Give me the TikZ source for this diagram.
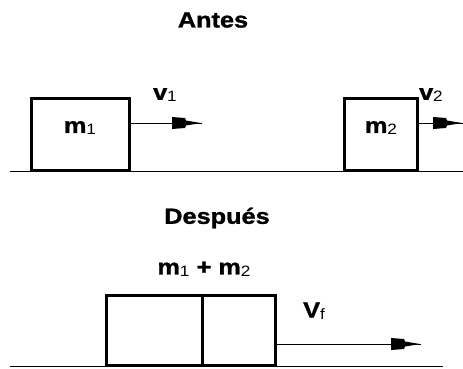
\documentclass[tikz,border=0pt]{standalone}
\usepackage{fontspec}
\setmainfont{Liberation Sans}[BoldFeatures={FakeBold=1.2}]
\newcommand\hstretchtxt[1]{\scalebox{1.15}[1]{#1}}
\newcommand\lowsub[1]{\raisebox{-2pt}{\fontsize{15}{18}\selectfont\mdseries #1}}
\begin{document}
\begin{tikzpicture}[x=1pt,y=-1pt,
  lbl/.style={inner sep=0pt, font=\bfseries\fontsize{22}{26}\selectfont},
  box/.style={draw, line width=3pt, inner sep=0pt, minimum height=72pt},
  ground/.style={line width=1.5pt},
  vec/.style={line width=1pt},
  vhead/.pic={\fill (-29,-6) -- (-16,-5) -- (-15,-2.5) -- (0,0) -- (-15,2.5) -- (-16,5) -- (-29,6) -- cycle;}]
\useasboundingbox (0,0) rectangle (463,368);
% Antes
\node[lbl] (antes) at (213,20) {\hstretchtxt{Antes}};
\node[box, minimum width=98pt] (b1) at (80,134) {};
\node[box, minimum width=73pt] (b2) at (380.5,134) {};
\node[lbl] (lm1) at (80,128) {\hstretchtxt{m\lowsub{1}}};
\node[lbl] (lm2) at (381,128) {\hstretchtxt{m\lowsub{2}}};
\coordinate (t1) at (202,123);
\coordinate (t2) at (463,123);
\draw[vec] (b1.east |- t1) -- (t1);
\draw[vec] (b2.east |- t2) -- (t2);
\pic at (201,123) {vhead};
\pic at (462,123) {vhead};
\node[lbl] (lv1) at (165,95) {\hstretchtxt{v\lowsub{1}}};
\node[lbl] (lv2) at (431,95) {\hstretchtxt{v\lowsub{2}}};
\coordinate (g1a) at (10,171.5);
\coordinate (g1b) at (463,171.5);
\draw[ground] (g1a) -- (g1b);
% Despues
\node[lbl] (despues) at (217,218) {\hstretchtxt{Después}};
\node[lbl] (lsum) at (204,269) {\hstretchtxt{m\lowsub{1} + m\lowsub{2}}};
\node[box, minimum width=96pt, minimum height=70pt] (c1) at (154,330) {};
\node[box, minimum width=73pt, minimum height=70pt] (c2) at (238.5,330) {};
\coordinate (t3) at (421,344);
\draw[vec] (c2.east |- t3) -- (t3);
\pic at (420,344) {vhead};
\node[lbl] (lvf) at (314,311) {\hstretchtxt{V\lowsub{f}}};
\coordinate (g2a) at (10,366.5);
\coordinate (g2b) at (443,366.5);
\draw[ground] (g2a) -- (g2b);
\end{tikzpicture}
\end{document}
